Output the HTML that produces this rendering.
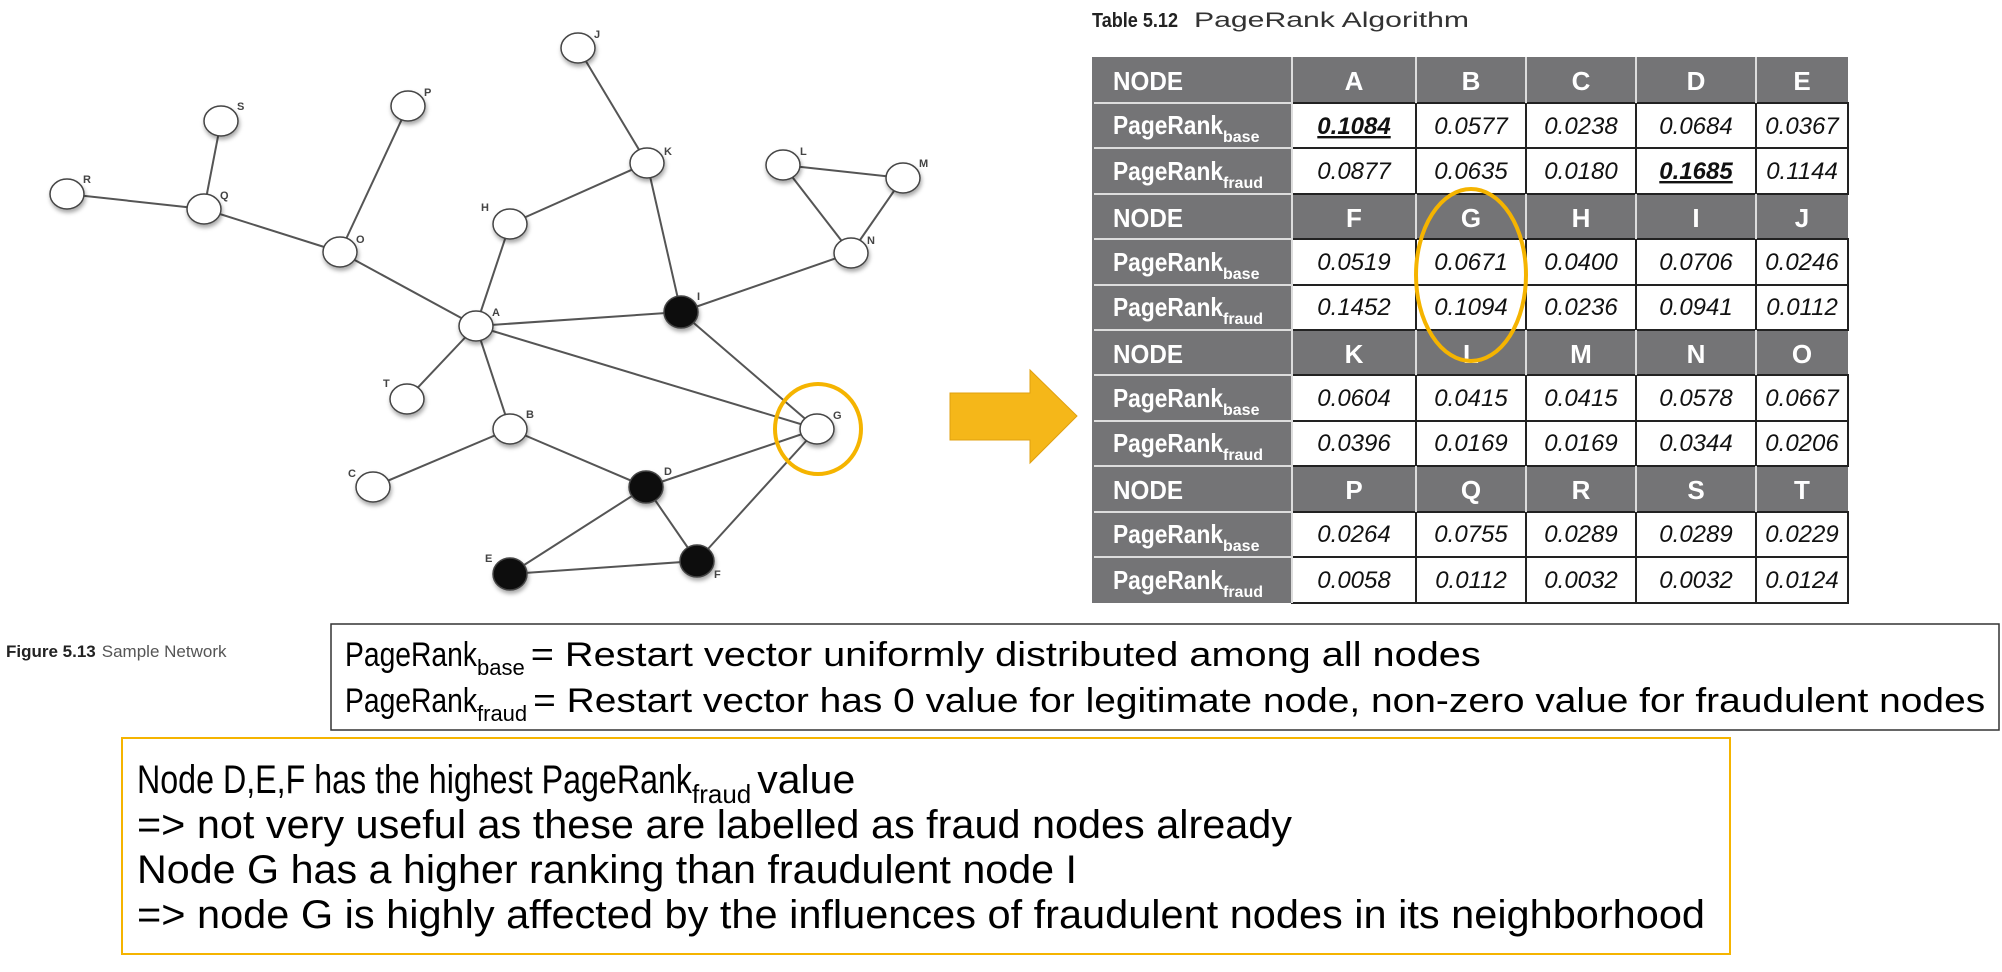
<!DOCTYPE html>
<html><head><meta charset="utf-8"><style>
html,body{margin:0;padding:0;background:#fff;}
svg{display:block;}
</style></head><body>
<svg width="2002" height="972" viewBox="0 0 2002 972" xmlns="http://www.w3.org/2000/svg" font-family="Liberation Sans, sans-serif">
<defs>
<filter id="sh" x="-50%" y="-50%" width="200%" height="200%"><feDropShadow dx="1" dy="3" stdDeviation="2" flood-color="#000" flood-opacity="0.35"/></filter>
</defs>
<g stroke="#555" stroke-width="2" fill="none">
<line x1="578" y1="48" x2="647" y2="163"/>
<line x1="647" y1="163" x2="510" y2="224"/>
<line x1="647" y1="163" x2="681" y2="312"/>
<line x1="408" y1="106" x2="340" y2="252"/>
<line x1="221" y1="121" x2="204" y2="209"/>
<line x1="67" y1="194" x2="204" y2="209"/>
<line x1="204" y1="209" x2="340" y2="252"/>
<line x1="340" y1="252" x2="476" y2="326"/>
<line x1="510" y1="224" x2="476" y2="326"/>
<line x1="476" y1="326" x2="681" y2="312"/>
<line x1="476" y1="326" x2="817" y2="429"/>
<line x1="476" y1="326" x2="407" y2="399"/>
<line x1="476" y1="326" x2="510" y2="429"/>
<line x1="510" y1="429" x2="373" y2="487"/>
<line x1="510" y1="429" x2="646" y2="487"/>
<line x1="681" y1="312" x2="851" y2="253"/>
<line x1="681" y1="312" x2="817" y2="429"/>
<line x1="783" y1="165" x2="903" y2="178"/>
<line x1="783" y1="165" x2="851" y2="253"/>
<line x1="903" y1="178" x2="851" y2="253"/>
<line x1="646" y1="487" x2="817" y2="429"/>
<line x1="817" y1="429" x2="697" y2="561"/>
<line x1="646" y1="487" x2="510" y2="574"/>
<line x1="646" y1="487" x2="697" y2="561"/>
<line x1="510" y1="574" x2="697" y2="561"/>
</g>
<g stroke="#444" stroke-width="1.5" filter="url(#sh)">
<g fill="#fff">
<ellipse cx="578" cy="48" rx="17" ry="15"/>
<ellipse cx="408" cy="106" rx="17" ry="15"/>
<ellipse cx="221" cy="121" rx="17" ry="15"/>
<ellipse cx="67" cy="194" rx="17" ry="15"/>
<ellipse cx="204" cy="209" rx="17" ry="15"/>
<ellipse cx="340" cy="252" rx="17" ry="15"/>
<ellipse cx="510" cy="224" rx="17" ry="15"/>
<ellipse cx="647" cy="163" rx="17" ry="15"/>
<ellipse cx="783" cy="165" rx="17" ry="15"/>
<ellipse cx="903" cy="178" rx="17" ry="15"/>
<ellipse cx="851" cy="253" rx="17" ry="15"/>
<ellipse cx="476" cy="326" rx="17" ry="15"/>
<ellipse cx="407" cy="399" rx="17" ry="15"/>
<ellipse cx="510" cy="429" rx="17" ry="15"/>
<ellipse cx="817" cy="429" rx="17" ry="15"/>
<ellipse cx="373" cy="487" rx="17" ry="15"/>
</g>
<g fill="#111">
<ellipse cx="681" cy="312" rx="17" ry="16"/>
<ellipse cx="646" cy="487" rx="17" ry="16"/>
<ellipse cx="510" cy="574" rx="17" ry="16"/>
<ellipse cx="697" cy="561" rx="17" ry="16"/>
</g>
</g>
<g font-size="11" font-weight="bold" fill="#444">
<text x="594" y="38">J</text><text x="424" y="96">P</text><text x="237" y="110">S</text>
<text x="83" y="183">R</text><text x="220" y="199">Q</text><text x="356" y="243">O</text>
<text x="481" y="211">H</text><text x="664" y="155">K</text><text x="800" y="155">L</text>
<text x="919" y="167">M</text><text x="867" y="244">N</text><text x="697" y="300">I</text>
<text x="492" y="316">A</text><text x="383" y="387">T</text><text x="526" y="418">B</text>
<text x="833" y="419">G</text><text x="348" y="477">C</text><text x="664" y="475">D</text>
<text x="485" y="562">E</text><text x="714" y="578">F</text>
</g>
<ellipse cx="818" cy="429" rx="43" ry="45" fill="none" stroke="#f5b400" stroke-width="4"/>
<polygon points="950,393 1030,393 1030,370 1077,416 1030,463 1030,440 950,440" fill="#f5b719" stroke="#e0a010" stroke-width="1"/>
<text x="1092" y="27" font-size="20" font-weight="bold" fill="#222" textLength="86" lengthAdjust="spacingAndGlyphs">Table 5.12</text>
<text x="1194" y="27" font-size="21" fill="#333" textLength="275" lengthAdjust="spacingAndGlyphs">PageRank Algorithm</text>
<rect x="1092" y="57" width="756" height="546" fill="#747476"/>
<g stroke="#222" stroke-width="2" fill="#fff">
<rect x="1292" y="103" width="556" height="91"/>
<rect x="1292" y="239" width="556" height="91"/>
<rect x="1292" y="375" width="556" height="91"/>
<rect x="1292" y="512" width="556" height="91"/>
</g>
<g stroke="#222" stroke-width="2">
<line x1="1292" y1="148" x2="1848" y2="148"/><line x1="1292" y1="285" x2="1848" y2="285"/>
<line x1="1292" y1="421" x2="1848" y2="421"/><line x1="1292" y1="557" x2="1848" y2="557"/>
<line x1="1416" y1="103" x2="1416" y2="194"/><line x1="1526" y1="103" x2="1526" y2="194"/><line x1="1636" y1="103" x2="1636" y2="194"/><line x1="1756" y1="103" x2="1756" y2="194"/>
<line x1="1416" y1="239" x2="1416" y2="330"/><line x1="1526" y1="239" x2="1526" y2="330"/><line x1="1636" y1="239" x2="1636" y2="330"/><line x1="1756" y1="239" x2="1756" y2="330"/>
<line x1="1416" y1="375" x2="1416" y2="466"/><line x1="1526" y1="375" x2="1526" y2="466"/><line x1="1636" y1="375" x2="1636" y2="466"/><line x1="1756" y1="375" x2="1756" y2="466"/>
<line x1="1416" y1="512" x2="1416" y2="603"/><line x1="1526" y1="512" x2="1526" y2="603"/><line x1="1636" y1="512" x2="1636" y2="603"/><line x1="1756" y1="512" x2="1756" y2="603"/>
</g>
<g stroke="#ddd" stroke-width="2">
<line x1="1292" y1="57" x2="1292" y2="603"/>
<line x1="1416" y1="57" x2="1416" y2="103"/><line x1="1526" y1="57" x2="1526" y2="103"/><line x1="1636" y1="57" x2="1636" y2="103"/><line x1="1756" y1="57" x2="1756" y2="103"/>
<line x1="1416" y1="194" x2="1416" y2="239"/><line x1="1526" y1="194" x2="1526" y2="239"/><line x1="1636" y1="194" x2="1636" y2="239"/><line x1="1756" y1="194" x2="1756" y2="239"/>
<line x1="1416" y1="330" x2="1416" y2="375"/><line x1="1526" y1="330" x2="1526" y2="375"/><line x1="1636" y1="330" x2="1636" y2="375"/><line x1="1756" y1="330" x2="1756" y2="375"/>
<line x1="1416" y1="466" x2="1416" y2="512"/><line x1="1526" y1="466" x2="1526" y2="512"/><line x1="1636" y1="466" x2="1636" y2="512"/><line x1="1756" y1="466" x2="1756" y2="512"/>
<line x1="1094" y1="103" x2="1292" y2="103"/><line x1="1094" y1="148" x2="1292" y2="148"/><line x1="1094" y1="194" x2="1292" y2="194"/>
<line x1="1094" y1="239" x2="1292" y2="239"/><line x1="1094" y1="285" x2="1292" y2="285"/><line x1="1094" y1="330" x2="1292" y2="330"/>
<line x1="1094" y1="375" x2="1292" y2="375"/><line x1="1094" y1="421" x2="1292" y2="421"/><line x1="1094" y1="466" x2="1292" y2="466"/>
<line x1="1094" y1="512" x2="1292" y2="512"/><line x1="1094" y1="557" x2="1292" y2="557"/>
</g>
<g font-weight="bold" fill="#fff" font-size="26">
<text x="1113" y="90" textLength="70" lengthAdjust="spacingAndGlyphs">NODE</text>
<text x="1113" y="227" textLength="70" lengthAdjust="spacingAndGlyphs">NODE</text>
<text x="1113" y="363" textLength="70" lengthAdjust="spacingAndGlyphs">NODE</text>
<text x="1113" y="499" textLength="70" lengthAdjust="spacingAndGlyphs">NODE</text>
<g text-anchor="middle">
<text x="1354" y="90">A</text><text x="1471" y="90">B</text><text x="1581" y="90">C</text><text x="1696" y="90">D</text><text x="1802" y="90">E</text>
<text x="1354" y="227">F</text><text x="1471" y="227">G</text><text x="1581" y="227">H</text><text x="1696" y="227">I</text><text x="1802" y="227">J</text>
<text x="1354" y="363">K</text><text x="1471" y="363">L</text><text x="1581" y="363">M</text><text x="1696" y="363">N</text><text x="1802" y="363">O</text>
<text x="1354" y="499">P</text><text x="1471" y="499">Q</text><text x="1581" y="499">R</text><text x="1696" y="499">S</text><text x="1802" y="499">T</text>
</g>
</g>
<g font-weight="bold" fill="#fff" font-size="26">
<text x="1113" y="134"><tspan textLength="110" lengthAdjust="spacingAndGlyphs">PageRank</tspan><tspan font-size="16" dy="8">base</tspan></text>
<text x="1113" y="180"><tspan textLength="110" lengthAdjust="spacingAndGlyphs">PageRank</tspan><tspan font-size="16" dy="8">fraud</tspan></text>
<text x="1113" y="271"><tspan textLength="110" lengthAdjust="spacingAndGlyphs">PageRank</tspan><tspan font-size="16" dy="8">base</tspan></text>
<text x="1113" y="316"><tspan textLength="110" lengthAdjust="spacingAndGlyphs">PageRank</tspan><tspan font-size="16" dy="8">fraud</tspan></text>
<text x="1113" y="407"><tspan textLength="110" lengthAdjust="spacingAndGlyphs">PageRank</tspan><tspan font-size="16" dy="8">base</tspan></text>
<text x="1113" y="452"><tspan textLength="110" lengthAdjust="spacingAndGlyphs">PageRank</tspan><tspan font-size="16" dy="8">fraud</tspan></text>
<text x="1113" y="543"><tspan textLength="110" lengthAdjust="spacingAndGlyphs">PageRank</tspan><tspan font-size="16" dy="8">base</tspan></text>
<text x="1113" y="589"><tspan textLength="110" lengthAdjust="spacingAndGlyphs">PageRank</tspan><tspan font-size="16" dy="8">fraud</tspan></text>
</g>
<g font-style="italic" font-size="24" fill="#111" text-anchor="middle">
<text x="1354" y="134" font-weight="bold" text-decoration="underline">0.1084</text><text x="1471" y="134">0.0577</text><text x="1581" y="134">0.0238</text><text x="1696" y="134">0.0684</text><text x="1802" y="134">0.0367</text>
<text x="1354" y="179">0.0877</text><text x="1471" y="179">0.0635</text><text x="1581" y="179">0.0180</text><text x="1696" y="179" font-weight="bold" text-decoration="underline">0.1685</text><text x="1802" y="179">0.1144</text>
<text x="1354" y="270">0.0519</text><text x="1471" y="270">0.0671</text><text x="1581" y="270">0.0400</text><text x="1696" y="270">0.0706</text><text x="1802" y="270">0.0246</text>
<text x="1354" y="315">0.1452</text><text x="1471" y="315">0.1094</text><text x="1581" y="315">0.0236</text><text x="1696" y="315">0.0941</text><text x="1802" y="315">0.0112</text>
<text x="1354" y="406">0.0604</text><text x="1471" y="406">0.0415</text><text x="1581" y="406">0.0415</text><text x="1696" y="406">0.0578</text><text x="1802" y="406">0.0667</text>
<text x="1354" y="451">0.0396</text><text x="1471" y="451">0.0169</text><text x="1581" y="451">0.0169</text><text x="1696" y="451">0.0344</text><text x="1802" y="451">0.0206</text>
<text x="1354" y="542">0.0264</text><text x="1471" y="542">0.0755</text><text x="1581" y="542">0.0289</text><text x="1696" y="542">0.0289</text><text x="1802" y="542">0.0229</text>
<text x="1354" y="588">0.0058</text><text x="1471" y="588">0.0112</text><text x="1581" y="588">0.0032</text><text x="1696" y="588">0.0032</text><text x="1802" y="588">0.0124</text>
</g>
<ellipse cx="1471" cy="275" rx="55" ry="86" fill="none" stroke="#f5b400" stroke-width="4"/>
<text x="6" y="657" font-size="17" fill="#222"><tspan font-weight="bold">Figure 5.13</tspan><tspan fill="#555" dx="6">Sample Network</tspan></text>
<rect x="331" y="624" width="1668" height="106" fill="#fff" stroke="#333" stroke-width="1.5"/>
<text x="345" y="666" font-size="34" fill="#000"><tspan textLength="132" lengthAdjust="spacingAndGlyphs">PageRank</tspan><tspan font-size="22" dy="9">base</tspan><tspan dy="-9" dx="6" textLength="950" lengthAdjust="spacingAndGlyphs">= Restart vector uniformly distributed among all nodes</tspan></text>
<text x="345" y="712" font-size="34" fill="#000"><tspan textLength="132" lengthAdjust="spacingAndGlyphs">PageRank</tspan><tspan font-size="22" dy="9">fraud</tspan><tspan dy="-9" dx="6" textLength="1452" lengthAdjust="spacingAndGlyphs">= Restart vector has 0 value for legitimate node, non-zero value for fraudulent nodes</tspan></text>
<rect x="122" y="738" width="1608" height="216" fill="#fff" stroke="#f5b400" stroke-width="2"/>
<g font-size="40" fill="#000">
<text x="137" y="793"><tspan textLength="555" lengthAdjust="spacingAndGlyphs">Node D,E,F has the highest PageRank</tspan><tspan font-size="26" dy="10">fraud</tspan><tspan dy="-10" dx="6" textLength="98" lengthAdjust="spacingAndGlyphs">value</tspan></text>
<text x="137" y="838" textLength="1155" lengthAdjust="spacingAndGlyphs">=&gt; not very useful as these are labelled as fraud nodes already</text>
<text x="137" y="883" textLength="940" lengthAdjust="spacingAndGlyphs">Node G has a higher ranking than fraudulent node I</text>
<text x="137" y="928" textLength="1568" lengthAdjust="spacingAndGlyphs">=&gt; node G is highly affected by the influences of fraudulent nodes in its neighborhood</text>
</g>
</svg>
</body></html>
